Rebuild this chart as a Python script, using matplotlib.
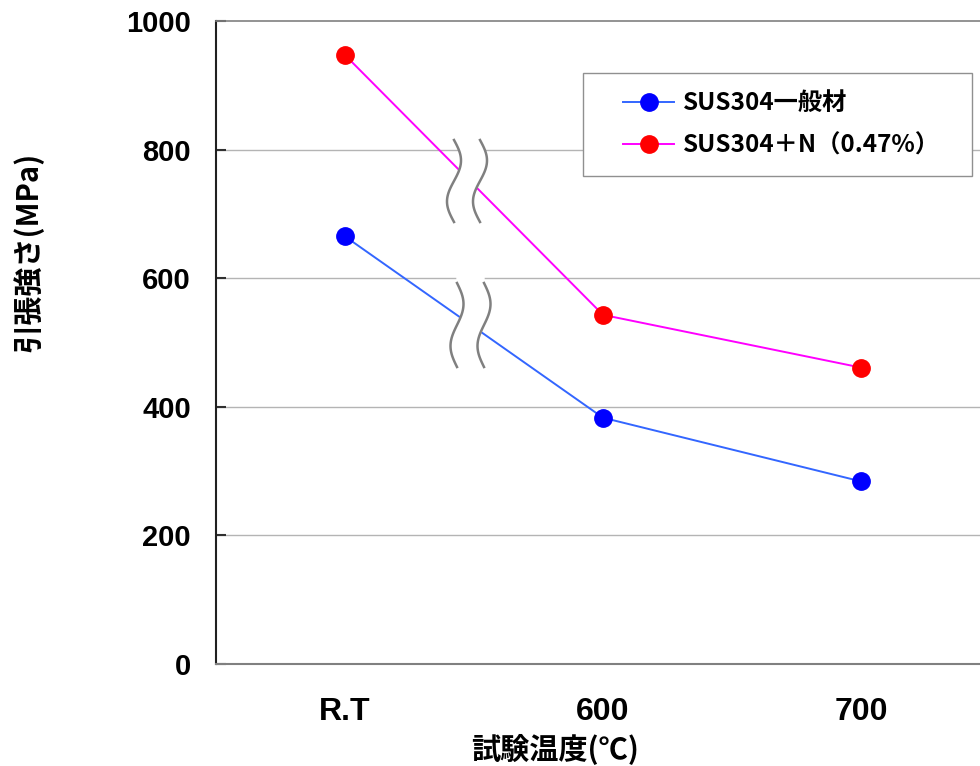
import numpy as np
import matplotlib
matplotlib.use("Agg")
import matplotlib.pyplot as plt
from matplotlib.legend_handler import HandlerLine2D

# ---------------------------------------------------------
# DATA
# ---------------------------------------------------------
categories = ["R.T", "600", "700"]
y_ticks = [0, 200, 400, 600, 800, 1000]

sus304_plain = [665, 383, 284]      # SUS304一般材
sus304_n = [947, 543, 461]          # SUS304＋N（0.47%）

label_plain = "SUS304一般材"
label_n = "SUS304＋N（0.47%）"
xlabel = "試験温度(℃)"
ylabel = "引張強さ(MPa)"

CJK = ["Noto Sans CJK JP", "DejaVu Sans"]
plt.rcParams["font.family"] = CJK

W, H = 980, 766


# ---------------------------------------------------------
# HELPERS
# ---------------------------------------------------------
def px_to_axes(px, py, box):
    # box = (left, top, right, bottom) in figure pixels
    l, t, r, b = box
    return (px - l) / (r - l), (b - py) / (b - t)


def draw_break(ax, box, cx, top, bottom, amp, gap):
    t = np.linspace(0, 1, 80)
    ys = top + (bottom - top) * t
    x1 = cx + amp * np.sin(2 * np.pi * t)
    x2 = x1 + gap
    p1 = [px_to_axes(a, b, box) for a, b in zip(x1, ys)]
    p2 = [px_to_axes(a, b, box) for a, b in zip(x2, ys)]
    # white patch between the two wavy lines
    top_ext = px_to_axes(cx, top - 6, box)[1]
    poly_x = [p[0] for p in p1] + [p[0] for p in p2[::-1]]
    poly_y = [p[1] for p in p1] + [p[1] for p in p2[::-1]]
    poly_x = [p1[0][0]] + poly_x + [p2[0][0]]
    poly_y = [top_ext] + poly_y + [top_ext]
    ax.fill(poly_x, poly_y, color="white", transform=ax.transAxes,
            zorder=5, clip_on=False)
    for p in (p1, p2):
        ax.plot([q[0] for q in p], [q[1] for q in p], color="#808080",
                lw=1.8, transform=ax.transAxes, zorder=6, clip_on=False)


class IndentedHandler(HandlerLine2D):
    # leaves some empty space left of the legend line (Excel-like)
    def create_artists(self, legend, orig_handle, xdescent, ydescent,
                       width, height, fontsize, trans):
        shift = 0.3 * width
        return super().create_artists(legend, orig_handle, xdescent - shift,
                                      ydescent, width - shift, height,
                                      fontsize, trans)


# ---------------------------------------------------------
# PLOT
# ---------------------------------------------------------
fig = plt.figure(figsize=(W / 100, H / 100), dpi=100)
box = (216, 21, 990, 664)
ax = fig.add_axes([box[0] / W, 1 - box[3] / H,
                   (box[2] - box[0]) / W, (box[3] - box[1]) / H])

x = np.arange(len(categories))
ax.plot(x, sus304_plain, color="#3366ff", lw=1.4, marker="o", ms=12.5,
        mfc="#0000ff", mec="#0000ff", label=label_plain, zorder=4)
ax.plot(x, sus304_n, color="#ff00ff", lw=1.4, marker="o", ms=12.5,
        mfc="#ff0000", mec="#ff0000", label=label_n, zorder=4)

ax.set_xlim(-0.5, len(categories) - 0.5)
ax.set_ylim(0, 1000)
ax.set_yticks(y_ticks)
ax.set_xticks(x)
ax.set_xticklabels(categories)

for yv in y_ticks[1:-1]:
    ax.axhline(yv, color="#b4b4b4", lw=1.0, zorder=1)

ax.spines["right"].set_visible(False)
ax.spines["top"].set_color("#808080")
ax.spines["top"].set_linewidth(1.2)
ax.spines["bottom"].set_color("#808080")
ax.spines["bottom"].set_linewidth(1.5)
ax.spines["left"].set_color("#202020")
ax.spines["left"].set_linewidth(1.5)

ax.tick_params(axis="y", direction="in", length=7, width=1.5,
               color="#303030", pad=18)
ax.tick_params(axis="x", length=0, pad=24)
for lab in ax.get_yticklabels():
    lab.set_fontfamily(["Liberation Sans", "DejaVu Sans"])
    lab.set_fontweight("bold")
    lab.set_fontsize(21)
for lab in ax.get_xticklabels():
    lab.set_fontfamily(["Liberation Sans Narrow", "Liberation Sans", "DejaVu Sans"])
    lab.set_fontweight("bold")
    lab.set_fontsize(23)

# axis break marks
draw_break(ax, box, 454, 140, 222, 7, 26)
draw_break(ax, box, 457, 283, 367, 6.5, 27)

fig.text(555 / W, 1 - 750 / H, xlabel, ha="center", va="center",
         fontsize=21, fontweight="bold", family=CJK)
fig.text(28 / W, 1 - 252 / H, ylabel, ha="center", va="center",
         rotation=90, fontsize=21, fontweight="bold", family=CJK)

x0, y0 = px_to_axes(583, 73, box)
x1, _ = px_to_axes(972, 73, box)
leg = ax.legend(loc="upper left", bbox_to_anchor=(x0, y0 - 0.2, x1 - x0, 0.2),
                mode="expand", borderaxespad=0, fancybox=False, framealpha=1,
                edgecolor="#909090", handlelength=3.0, handletextpad=0.35,
                borderpad=0.75, labelspacing=0.75,
                handler_map={plt.Line2D: IndentedHandler()},
                prop={"family": CJK, "weight": "bold", "size": 17.5})
leg.get_frame().set_linewidth(1.0)
leg.set_zorder(7)

fig.savefig("out.png", dpi=100)
